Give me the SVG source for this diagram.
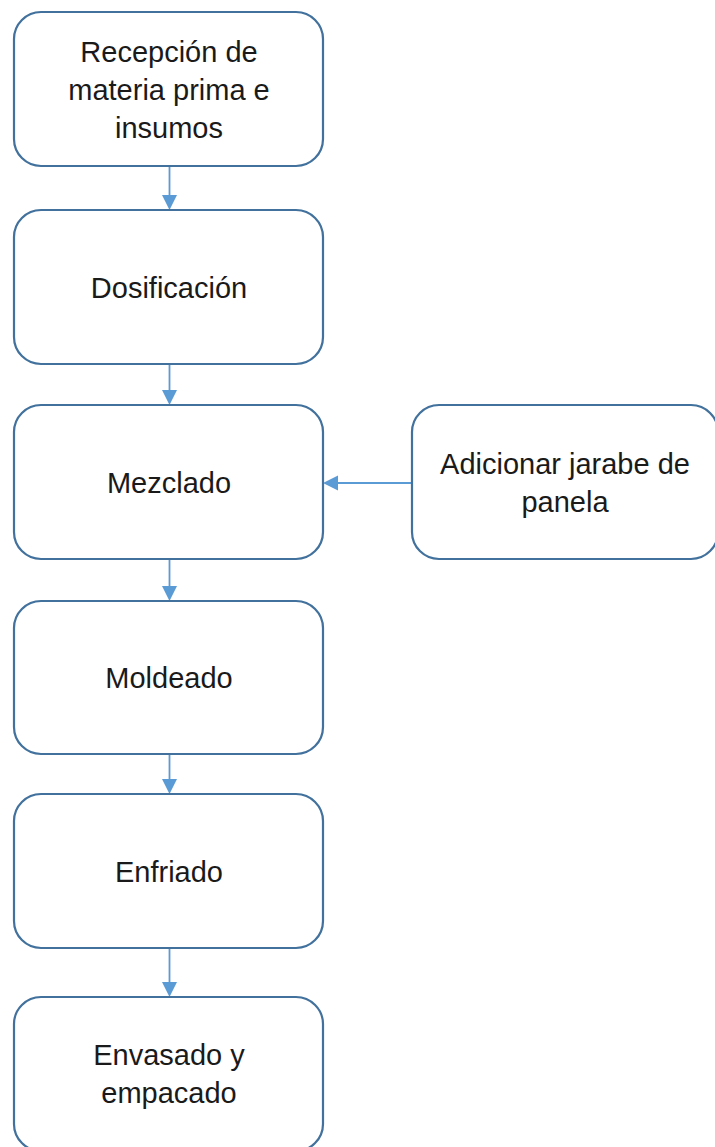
<svg xmlns="http://www.w3.org/2000/svg" width="715" height="1147" viewBox="0 0 715 1147">
<style>
.box{fill:#ffffff;stroke:#41719c;stroke-width:2.2}
.lbl{font-family:"Liberation Sans",Arial,sans-serif;font-size:29px;fill:#1a1a1a;text-anchor:middle}
.con{stroke:#5b9bd5;stroke-width:1.8;fill:none}
.head{fill:#5b9bd5}
</style>
<rect width="715" height="1147" fill="#ffffff"/>
<g id="connectors">
<line class="con" x1="169.5" y1="166" x2="169.5" y2="197"/>
<polygon class="head" points="162,195 177,195 169.5,210"/>
<line class="con" x1="169.5" y1="364" x2="169.5" y2="392"/>
<polygon class="head" points="162,390 177,390 169.5,405"/>
<line class="con" x1="169.5" y1="559" x2="169.5" y2="588"/>
<polygon class="head" points="162,586 177,586 169.5,601"/>
<line class="con" x1="169.5" y1="754" x2="169.5" y2="781"/>
<polygon class="head" points="162,779 177,779 169.5,794"/>
<line class="con" x1="169.5" y1="948" x2="169.5" y2="984"/>
<polygon class="head" points="162,982 177,982 169.5,997"/>
<line class="con" x1="412" y1="483" x2="336" y2="483"/>
<polygon class="head" points="338,475.5 338,490.5 323,483"/>
</g>
<g id="n1">
<rect class="box" x="14" y="12" width="309" height="154" rx="27"/>
<text class="lbl" x="169" y="62">Recepción de</text>
<text class="lbl" x="169" y="100">materia prima e</text>
<text class="lbl" x="169" y="138">insumos</text>
</g>
<g id="n2">
<rect class="box" x="14" y="210" width="309" height="154" rx="27"/>
<text class="lbl" x="169" y="298">Dosificación</text>
</g>
<g id="n3">
<rect class="box" x="14" y="405" width="309" height="154" rx="27"/>
<text class="lbl" x="169" y="493">Mezclado</text>
</g>
<g id="n4">
<rect class="box" x="14" y="601" width="309" height="153" rx="27"/>
<text class="lbl" x="169" y="688">Moldeado</text>
</g>
<g id="n5">
<rect class="box" x="14" y="794" width="309" height="154" rx="27"/>
<text class="lbl" x="169" y="882">Enfriado</text>
</g>
<g id="n6">
<rect class="box" x="14" y="997" width="309" height="154" rx="27"/>
<text class="lbl" x="169" y="1065">Envasado y</text>
<text class="lbl" x="169" y="1103">empacado</text>
</g>
<g id="n7">
<rect class="box" x="412" y="405" width="306" height="154" rx="27"/>
<text class="lbl" x="565" y="474">Adicionar jarabe de</text>
<text class="lbl" x="565" y="512">panela</text>
</g>
</svg>
